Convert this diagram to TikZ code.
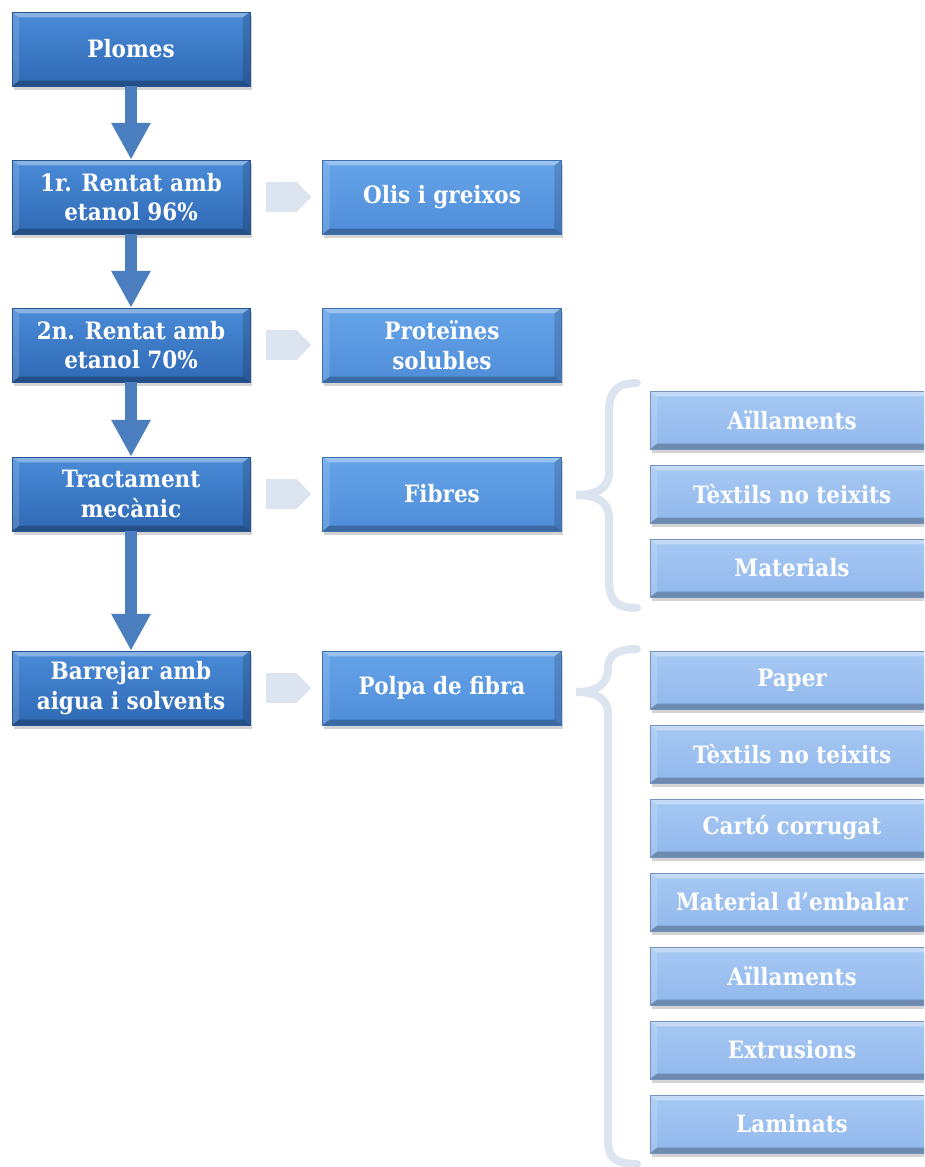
\documentclass[tikz,border=0pt]{standalone}
\usepackage{fontspec}
\setmainfont{DejaVu Serif Condensed}
\usetikzlibrary{arrows.meta,shadows}
\definecolor{proctop}{HTML}{4A8BD8}
\definecolor{procbot}{HTML}{2F69B4}
\definecolor{prodtop}{HTML}{65A3E8}
\definecolor{prodbot}{HTML}{4F8DD9}
\definecolor{usetop}{HTML}{A6C8F3}
\definecolor{usebot}{HTML}{92B8EC}
\definecolor{flowblue}{HTML}{4A7EBF}
\definecolor{paleblue}{HTML}{DCE4F0}

\begin{document}
\begin{tikzpicture}[x=0.02cm,y=-0.02cm,
    bevel/.style={path picture={
      \fill[white,opacity=0.35] (path picture bounding box.north west) -- (path picture bounding box.north east)
        -- ([shift={(-4pt,-3pt)}]path picture bounding box.north east) -- ([shift={(4pt,-3pt)}]path picture bounding box.north west) -- cycle;
      \fill[white,opacity=0.15] (path picture bounding box.north west) -- (path picture bounding box.south west)
        -- ([shift={(4pt,3pt)}]path picture bounding box.south west) -- ([shift={(4pt,-3pt)}]path picture bounding box.north west) -- cycle;
      \fill[black,opacity=0.25] (path picture bounding box.south west) -- (path picture bounding box.south east)
        -- ([shift={(-4pt,3pt)}]path picture bounding box.south east) -- ([shift={(4pt,3pt)}]path picture bounding box.south west) -- cycle;
      \fill[black,opacity=0.15] (path picture bounding box.north east) -- (path picture bounding box.south east)
        -- ([shift={(-4pt,3pt)}]path picture bounding box.south east) -- ([shift={(-4pt,-3pt)}]path picture bounding box.north east) -- cycle;
    }},
    basebox/.style={rectangle,inner sep=2pt,align=center,text=white,
      font=\fontsize{13.6}{16.8}\selectfont\bfseries,bevel,
      drop shadow={shadow xshift=1pt,shadow yshift=-2pt,opacity=0.35}},
    procbox/.style={basebox,minimum width=4.76cm,minimum height=1.48cm,
      top color=proctop,bottom color=procbot,draw=procbot!80!black,line width=0.3pt},
    prodbox/.style={basebox,minimum width=4.78cm,minimum height=1.48cm,
      top color=prodtop,bottom color=prodbot,draw=prodbot!80!black,line width=0.3pt},
    usebox/.style={basebox,minimum width=5.68cm,minimum height=1.16cm,
      top color=usetop,bottom color=usebot,draw=usebot!80!black,line width=0.3pt},
    downarrow/.style={draw=flowblue,line width=0.24cm,
      -{Triangle[width=0.74cm,length=0.74cm]}},
    sidearrow/.style={draw=paleblue,line width=0.6cm,
      -{Triangle[width=0.6cm,length=0.3cm]},shorten <=0.32cm,shorten >=0.22cm},
    bracestroke/.style={draw=paleblue,line width=0.16cm,line cap=round}]
  \clip (0,0) rectangle (924,1167);
  \useasboundingbox (0,0) rectangle (924,1167);

  % process steps
  \node[procbox] (plomes) at (131,49) {Plomes};
  \node[procbox] (rentat1) at (131,197) {1r. Rentat amb\\etanol 96\%};
  \node[procbox] (rentat2) at (131,345) {2n. Rentat amb\\etanol 70\%};
  \node[procbox] (mecanic) at (131,494) {Tractament\\mecànic};
  \node[procbox] (barreja) at (131,688) {Barrejar amb\\aigua i solvents};

  % products
  \node[prodbox] (olis) at (442,197) {Olis i greixos};
  \node[prodbox] (proteines) at (442,345) {Proteïnes\\solubles};
  \node[prodbox] (fibres) at (442,494) {Fibres};
  \node[prodbox] (polpa) at (442,688) {Polpa de fibra};

  % uses of the fibres and of the pulp
  \foreach \txt [count=\i from 0] in {Aïllaments,Tèxtils no teixits,Materials}
    \node[usebox] (fibus\i) at (792,{420+74*\i}) {\txt};
  \foreach \txt [count=\i from 0] in {Paper,Tèxtils no teixits,Cartó corrugat,Material d’embalar,Aïllaments,Extrusions,Laminats}
    \node[usebox] (polus\i) at (792,{680+74*\i}) {\txt};

  % flow down
  \draw[downarrow] (plomes) -- (rentat1);
  \draw[downarrow] (rentat1) -- (rentat2);
  \draw[downarrow] (rentat2) -- (mecanic);
  \draw[downarrow] (mecanic) -- (barreja);

  % outputs
  \foreach \a/\b in {rentat1/olis,rentat2/proteines,mecanic/fibres,barreja/polpa}
    \draw[sidearrow] (\a) -- (\b);

  % braces
  \draw[bracestroke] (637,383) .. controls (616,383) and (609,392) .. (609,413)
    -- (609,472) .. controls (609,488) and (597,495) .. (576,495)
    .. controls (597,495) and (609,502) .. (609,518)
    -- (609,582) .. controls (609,600) and (616,608) .. (637,608);
  \draw[bracestroke] (637,649) .. controls (616,649) and (608,656) .. (608,668)
    .. controls (608,684) and (597,692) .. (576,692)
    .. controls (597,692) and (608,699) .. (608,714)
    -- (608,1142) .. controls (608,1158) and (616,1164) .. (637,1164);
\end{tikzpicture}
\end{document}
